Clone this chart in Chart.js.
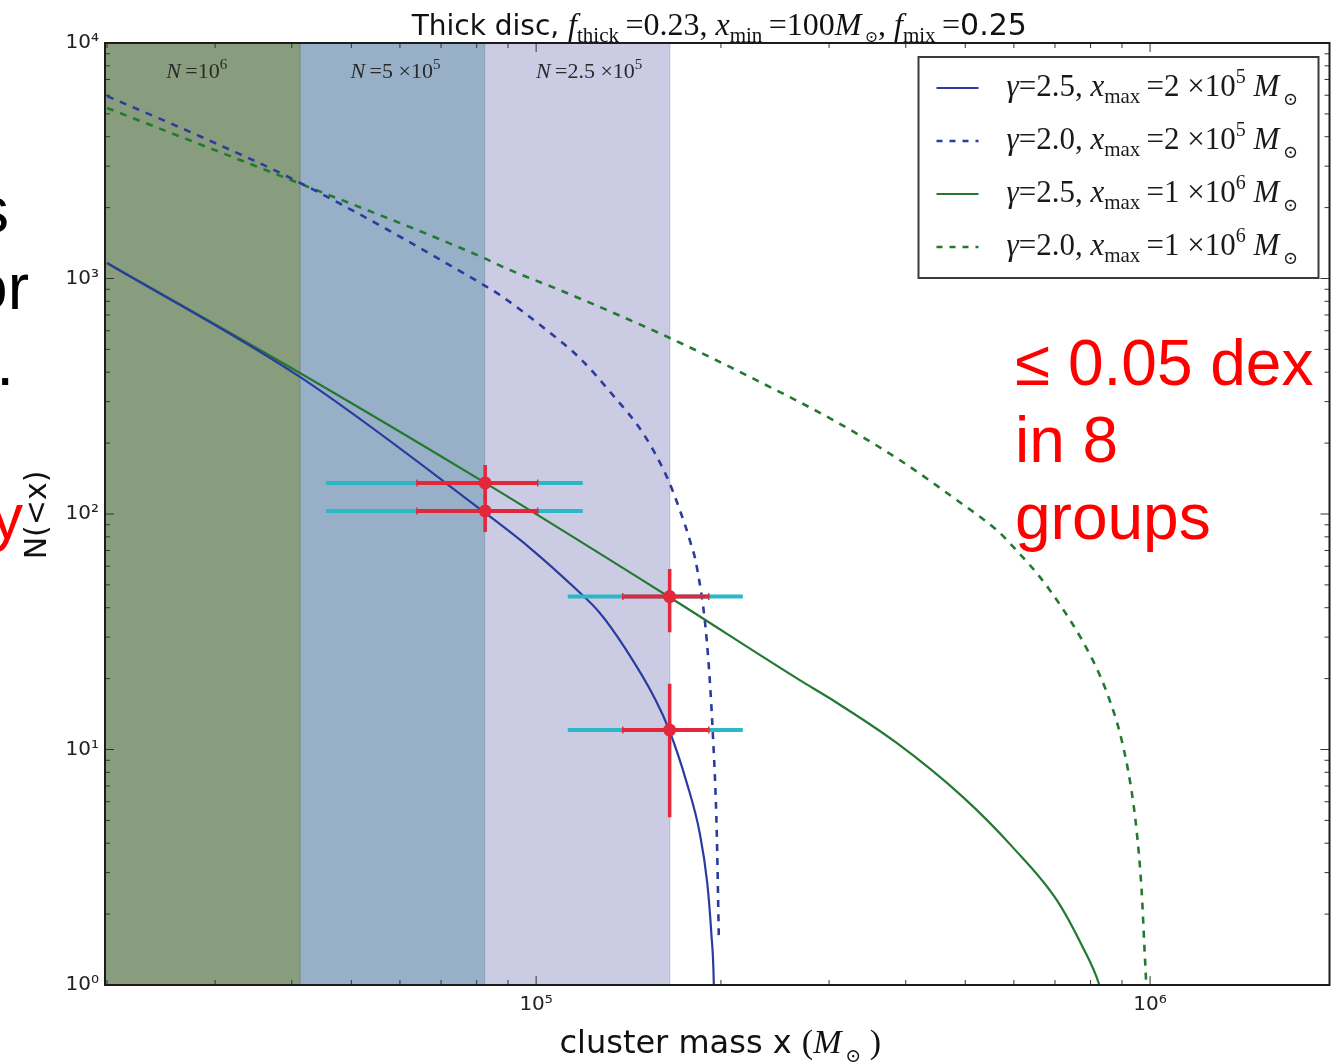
<!DOCTYPE html>
<html>
<head>
<meta charset="utf-8">
<title>Thick disc - cluster mass function</title>
<script src="https://cdn.jsdelivr.net/npm/chart.js@4.4.1/dist/chart.umd.min.js"></script>
<style>
  html, body { margin: 0; padding: 0; background: #fff; }
  body { position: relative; width: 1336px; height: 1062px; overflow: hidden; }
  #chart { position: absolute; left: 0; top: 0; }
  .slide {
    position: absolute;
    font-family: "Liberation Sans", Arial, sans-serif;
    font-size: 64px;
    line-height: 77px;
    white-space: nowrap;
  }
  .cut { color: #000; text-align: right; }
  .note { left: 1015px; top: 325px; color: #ff0000; }
</style>
</head>
<body>
<canvas id="chart" width="1336" height="1062"></canvas>

<!-- bits of the slide text that sit behind the figure -->
<div class="slide cut" style="right:1327px; top:172px;">s</div>
<div class="slide cut" style="right:1307px; top:249px;">or</div>
<div class="slide cut" style="right:1322px; top:325px;">.</div>
<div class="slide cut" style="right:1313px; top:479px; color:#ff0000;">y</div>
<div class="slide note">≤ 0.05 dex<br>in 8<br>groups</div>

<script>
/* ================== Data ================== */
const xRange = [19850, 1.96e6];
const yRange = [1, 1e4];
const xTickValues = [1e5, 1e6];
const yTickValues = [1, 10, 100, 1000, 10000];

// shaded mass ranges
const bandEdges = [19850, 41300, 82600, 165000];
const bandLabelMass = [28000, 59000, 122000];
const bandLabelMant = ["", "5 ×", "2.5 ×"];
const bandLabelExp = ["6", "5", "5"];

// gamma=2.5, xmax=2e5 (blue solid)
const massA = [20000, 41240, 82200, 97300, 116100, 127000, 139500, 156600, 164700, 176000, 184700, 190000, 192900, 194700, 195100];
const countA = [1164, 382, 102, 72.4, 48.0, 38.0, 27.0, 16.2, 12.1, 7.2, 4.42, 2.71, 1.66, 1.02, 0.7];

// gamma=2.0, xmax=2e5 (blue dashed)
const massB = [20000, 28450, 41000, 82200, 87300, 102500, 117800, 133300, 149200, 163300, 171400, 177900, 182700, 189600, 194000, 196900, 198400];
const countB = [5950, 4000, 2570, 938, 851, 622, 459, 320, 221, 143.6, 104, 77.6, 59.6, 29.2, 11.7, 4.42, 1.6];

// gamma=2.5, xmax=1e6 (green solid)
const massC = [20000, 41240, 82600, 164700, 268800, 300800, 386600, 495300, 597200, 704400, 776600, 824600, 840000];
const countC = [1164, 397, 135.5, 44.4, 19.7, 16.5, 10.66, 6.29, 3.85, 2.30, 1.45, 1.02, 0.85];

// gamma=2.0, xmax=1e6 (green dashed)
const massD = [20000, 28450, 41000, 82200, 88300, 112200, 165100, 231300, 304200, 391000, 484200, 562500, 590600, 686200, 806200, 859300, 898800, 929600, 950600, 968700, 979500, 986900];
const countD = [5297, 3700, 2545, 1222, 1119, 868, 559, 364, 251, 169.5, 114.6, 85.5, 75.3, 47.6, 24.0, 16.2, 10.98, 7.07, 4.55, 2.53, 1.41, 0.95];

// measured groups with error bars
const ptMass = [82600, 82600, 165000, 165000];
const ptN = [135.5, 103, 44.6, 12.1];
const ptNLo = [114.7, 83.9, 31.5, 5.15];
const ptNHi = [161.5, 120.5, 58.4, 19.0];
const ptMassLo = [63940, 63940, 138400, 138400];
const ptMassHi = [100600, 100600, 191100, 191100];
const ptMassLoWide = [45450, 45450, 112600, 112600];
const ptMassHiWide = [119100, 119100, 217100, 217100];

// legend text
const legendGamma = ["2.5", "2.0", "2.5", "2.0"];
const legendXmaxMant = ["2", "2", "1", "1"];
const legendXmaxExp = ["5", "5", "6", "6"];

/* ================== Styles ================== */
const SANS = '"DejaVu Sans", sans-serif';
const SERIF = '"Liberation Serif", "DejaVu Serif", serif';
const BLUE = "#2b3c9e";
const GREEN = "#23792f";
const RED = "#e3263a";
const CYAN = "#2bb7c5";
const THIN = "\u2009";
const bandColors = ["#879d7e", "#97b0c7", "#cbcbe4"];
const bandLineColors = ["#5f7259", "#8097b5", "#bcbcd8"];
const curveStyles = [
  { color: BLUE, dash: [], width: 2.2 },
  { color: BLUE, dash: [7, 7], width: 2.6 },
  { color: GREEN, dash: [], width: 2.2 },
  { color: GREEN, dash: [7, 7], width: 2.6 },
];

/* ================== Helpers ================== */
const SUP = { 0: "⁰", 1: "¹", 2: "²", 3: "³", 4: "⁴", 5: "⁵", 6: "⁶" };
function powLabel(v) {
  const e = Math.round(Math.log10(v));
  return "10" + String(e).split("").map((c) => SUP[c]).join("");
}
function pairs(xs, ys) {
  return xs.map((x, i) => ({ x, y: ys[i] }));
}
const rm = (t, s, dy) => ({ t, font: `${s}px ${SERIF}`, dy: dy || 0 });
const it = (t, s, dy) => ({ t, font: `italic ${s}px ${SERIF}`, dy: dy || 0 });
const sf = (t, s, dy) => ({ t, font: `${s}px ${SANS}`, dy: dy || 0 });

function drawRuns(ctx, runs, x, y, align) {
  let w = 0;
  runs.forEach((r) => { ctx.font = r.font; w += ctx.measureText(r.t).width; });
  let cx = align === "center" ? x - w / 2 : x;
  ctx.textAlign = "left";
  ctx.textBaseline = "alphabetic";
  runs.forEach((r) => {
    ctx.font = r.font;
    ctx.fillText(r.t, cx, y + r.dy);
    cx += ctx.measureText(r.t).width;
  });
  return w;
}

function logTicks(scale, cb) {
  const lo = Math.floor(Math.log10(scale.min));
  const hi = Math.ceil(Math.log10(scale.max));
  for (let e = lo; e <= hi; e++) {
    for (let m = 1; m <= 9; m++) {
      const v = m * Math.pow(10, e);
      if (v < scale.min * 0.999 || v > scale.max * 1.001) continue;
      cb(scale.getPixelForValue(v), m === 1);
    }
  }
}

/* ================== Plugins ================== */
const bandsPlugin = {
  id: "bands",
  beforeDatasetsDraw(chart) {
    const { ctx, chartArea: a, scales: { x } } = chart;
    ctx.save();
    for (let i = 0; i < bandEdges.length - 1; i++) {
      const x0 = x.getPixelForValue(bandEdges[i]);
      const x1 = x.getPixelForValue(bandEdges[i + 1]);
      ctx.fillStyle = bandColors[i];
      ctx.fillRect(x0, a.top, x1 - x0, a.bottom - a.top);
      ctx.strokeStyle = bandLineColors[i];
      ctx.lineWidth = 1.2;
      ctx.beginPath();
      ctx.moveTo(x1, a.top);
      ctx.lineTo(x1, a.bottom);
      ctx.stroke();
    }
    ctx.fillStyle = "#2a2a2a";
    bandLabelMass.forEach((m, i) => {
      drawRuns(ctx, [it("N", 22), rm(THIN + "=" + bandLabelMant[i] + "10", 22), rm(bandLabelExp[i], 15, -9)],
        x.getPixelForValue(m), a.top + 35, "center");
    });
    ctx.restore();
  },
};

const framePlugin = {
  id: "frame",
  afterDatasetsDraw(chart) {
    const { ctx, chartArea: a, scales: { x, y } } = chart;
    ctx.save();

    // small caps at the ends of the red horizontal bars
    ctx.strokeStyle = RED;
    ctx.lineWidth = 1.4;
    ptMass.forEach((m, i) => {
      const py = y.getPixelForValue(ptN[i]);
      ctx.beginPath();
      [ptMassLo[i], ptMassHi[i]].forEach((v) => {
        const p = x.getPixelForValue(v);
        ctx.moveTo(p, py - 3.5); ctx.lineTo(p, py + 3.5);
      });
      ctx.stroke();
    });

    // inward ticks on all four sides
    ctx.strokeStyle = "#333";
    ctx.lineWidth = 1;
    logTicks(x, (p, major) => {
      const len = major ? 9 : 5;
      ctx.beginPath();
      ctx.moveTo(p, a.bottom); ctx.lineTo(p, a.bottom - len);
      ctx.moveTo(p, a.top); ctx.lineTo(p, a.top + len);
      ctx.stroke();
    });
    logTicks(y, (p, major) => {
      const len = major ? 9 : 5;
      ctx.beginPath();
      ctx.moveTo(a.left, p); ctx.lineTo(a.left + len, p);
      ctx.moveTo(a.right, p); ctx.lineTo(a.right - len, p);
      ctx.stroke();
    });

    // spines
    ctx.strokeStyle = "#1c1c1c";
    ctx.lineWidth = 2;
    ctx.strokeRect(a.left, a.top, a.right - a.left, a.bottom - a.top);

    // legend box
    const bx = a.right - 411, by = a.top + 14, bw = 400, bh = 221;
    ctx.fillStyle = "#fff";
    ctx.fillRect(bx, by, bw, bh);
    ctx.strokeStyle = "#3a3a3a";
    ctx.lineWidth = 2;
    ctx.strokeRect(bx, by, bw, bh);
    curveStyles.forEach((s, i) => {
      const ry = by + 31 + i * 53;
      ctx.strokeStyle = s.color;
      ctx.lineWidth = s.width;
      ctx.setLineDash(s.dash.length ? [6, 7] : []);
      ctx.beginPath();
      ctx.moveTo(bx + 18, ry);
      ctx.lineTo(bx + 60, ry);
      ctx.stroke();
      ctx.setLineDash([]);
      ctx.fillStyle = "#1a1a1a";
      drawRuns(ctx, [
        it("γ", 31), rm("=" + legendGamma[i] + ", ", 31), it("x", 31), rm("max", 21, 7),
        rm(THIN + "=" + legendXmaxMant[i] + " ×10", 31), rm(legendXmaxExp[i], 20, -13),
        rm(" ", 31), it("M", 31), rm(THIN + "⊙", 18, 9),
      ], bx + 88, ry + 8, "left");
    });

    // title
    ctx.fillStyle = "#111";
    drawRuns(ctx, [
      sf("Thick disc, ", 28), it("f", 32), rm("thick", 21, 7), rm(THIN + "=0.23, ", 32),
      it("x", 32), rm("min", 21, 7), rm(THIN + "=100", 32), it("M", 32), rm(THIN + "⊙", 16, 7),
      rm(", ", 32), it("f", 32), rm("mix", 21, 7), rm(THIN + "=", 32), sf("0.25", 30),
    ], (a.left + a.right) / 2 + 2, 35, "center");

    // x label
    drawRuns(ctx, [sf("cluster mass x ", 32), rm("(", 34), it("M", 34), rm(THIN + "⊙", 19, 9), rm(" )", 34)],
      (a.left + a.right) / 2 + 3, 1053, "center");

    // y label
    ctx.translate(46, 515);
    ctx.rotate(-Math.PI / 2);
    ctx.font = `30px ${SANS}`;
    ctx.textAlign = "center";
    ctx.fillText("N(<x)", 0, 0);
    ctx.restore();
  },
};

/* ================== Datasets ================== */
const curves = [
  [massA, countA],
  [massB, countB],
  [massC, countC],
  [massD, countD],
].map(([xs, ys], i) => ({
  data: pairs(xs, ys),
  showLine: true,
  borderColor: curveStyles[i].color,
  borderWidth: curveStyles[i].width,
  borderDash: curveStyles[i].dash,
  pointRadius: 0,
  cubicInterpolationMode: "monotone",
  clip: 0,
  order: 5,
}));

const segment = (pts, color, width, order) => ({
  data: pts,
  showLine: true,
  borderColor: color,
  borderWidth: width,
  pointRadius: 0,
  order,
});

const errorBars = [];
ptMass.forEach((m, i) => {
  errorBars.push(segment([{ x: ptMassLoWide[i], y: ptN[i] }, { x: ptMassHiWide[i], y: ptN[i] }], CYAN, 4, 4));
  errorBars.push(segment([{ x: ptMassLo[i], y: ptN[i] }, { x: ptMassHi[i], y: ptN[i] }], RED, 4, 3));
  errorBars.push(segment([{ x: m, y: ptNLo[i] }, { x: m, y: ptNHi[i] }], RED, 3.5, 3));
});

const points = {
  data: pairs(ptMass, ptN),
  pointRadius: 6.5,
  pointBackgroundColor: RED,
  pointBorderWidth: 0,
  order: 1,
};

/* ================== Chart ================== */
const ctx = document.getElementById("chart");
new Chart(ctx, {
  type: "scatter",
  data: { datasets: [...curves, ...errorBars, points] },
  options: {
    responsive: false,
    animation: false,
    devicePixelRatio: 1,
    layout: { padding: { top: 43, right: 6, left: 0, bottom: 0 } },
    plugins: { legend: { display: false }, tooltip: { enabled: false } },
    scales: {
      x: {
        type: "logarithmic",
        min: xRange[0],
        max: xRange[1],
        afterBuildTicks: (s) => { s.ticks = xTickValues.map((v) => ({ value: v })); },
        afterFit: (s) => { s.height = 77; },
        grid: { display: false, drawTicks: false },
        border: { display: false },
        ticks: {
          autoSkip: false,
          maxRotation: 0,
          padding: 8,
          color: "#222",
          font: { family: SANS, size: 20 },
          callback: (v) => powLabel(v),
        },
      },
      y: {
        type: "logarithmic",
        min: yRange[0],
        max: yRange[1],
        afterBuildTicks: (s) => { s.ticks = yTickValues.map((v) => ({ value: v })); },
        afterFit: (s) => { s.width = 105; },
        grid: { display: false, drawTicks: false },
        border: { display: false },
        ticks: {
          autoSkip: false,
          padding: 6,
          color: "#222",
          font: { family: SANS, size: 20 },
          callback: (v) => powLabel(v),
        },
      },
    },
  },
  plugins: [bandsPlugin, framePlugin],
});
</script>
</body>
</html>
